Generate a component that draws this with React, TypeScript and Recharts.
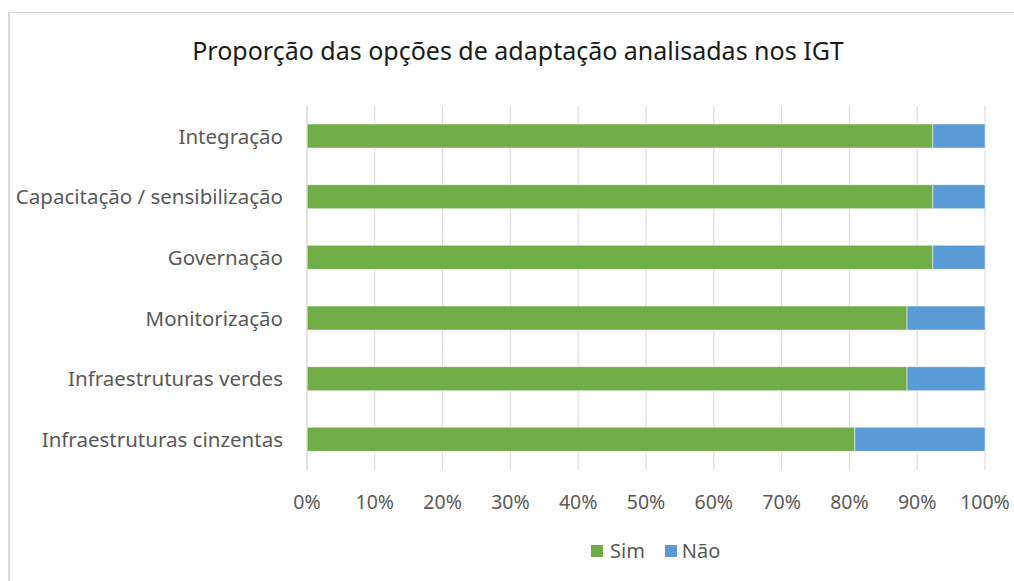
import React from "react";
import { BarChart, Bar, XAxis, YAxis, CartesianGrid } from "recharts";

const categories = [
  "Integração",
  "Capacitação / sensibilização",
  "Governação",
  "Monitorização",
  "Infraestruturas verdes",
  "Infraestruturas cinzentas",
];
const simValues = [0.923, 0.923, 0.923, 0.885, 0.885, 0.808];
const naoValues = [0.077, 0.077, 0.077, 0.115, 0.115, 0.192];
const xTicks = [0, 0.1, 0.2, 0.3, 0.4, 0.5, 0.6, 0.7, 0.8, 0.9, 1];
const seriesNames = ["Sim", "Não"];
const title = "Proporção das opções de adaptação analisadas nos IGT";

const GREEN = "#70AD47";
const BLUE = "#5B9BD5";
const FONT = "'Noto Sans', sans-serif";

const data = categories.map((c, i) => ({ name: c, sim: simValues[i], nao: naoValues[i] }));

export default function App() {
  return (
    <div style={{ position: "absolute", left: 0, top: 0, width: 1014, height: 581, background: "#fff", overflow: "hidden", fontFamily: FONT }}>
      <div style={{ position: "absolute", left: 8, top: 12, width: 1100, height: 700, borderLeft: "2px solid #d9d9d9", borderTop: "1px solid #d9d9d9" }} />
      <div style={{ position: "absolute", left: 0, top: 38, width: 1036, textAlign: "center", fontSize: 25, lineHeight: 1, color: "#1a1a1a", whiteSpace: "nowrap" }}>
        {title}
      </div>
      <div style={{ position: "absolute", left: 0, top: 0 }}>
        <BarChart
          width={1014}
          height={581}
          data={data}
          layout="vertical"
          margin={{ top: 106, right: 29, bottom: 81, left: 0 }}
          barSize={24}
        >
          <CartesianGrid horizontal={false} vertical={true} stroke="#d9d9d9" strokeWidth={1} />
          <XAxis
            type="number"
            domain={[0, 1]}
            ticks={xTicks}
            interval={0}
            height={30}
            tickFormatter={(v: number) => `${Math.round(v * 100)}%`}
            axisLine={false}
            tickLine={false}
            tickSize={0}
            tickMargin={25}
            tick={{ fill: "#595959", fontSize: 19.5, fontFamily: FONT }}
          />
          <YAxis
            type="category"
            dataKey="name"
            width={307}
            axisLine={{ stroke: "#d9d9d9", strokeWidth: 1 }}
            tickLine={false}
            tickSize={0}
            tickMargin={24}
            interval={0}
            tick={{ fill: "#595959", fontSize: 20.5, fontFamily: FONT }}
          />
          <Bar dataKey="sim" name={seriesNames[0]} stackId="a" fill={GREEN} stroke="#ffffff" strokeWidth={0.5} isAnimationActive={false} />
          <Bar dataKey="nao" name={seriesNames[1]} stackId="a" fill={BLUE} stroke="#ffffff" strokeWidth={0.5} isAnimationActive={false} />
        </BarChart>
      </div>
      <div style={{ position: "absolute", left: 591, top: 541, height: 20, display: "flex", alignItems: "center", fontSize: 20, lineHeight: 1, color: "#595959", whiteSpace: "nowrap" }}>
        <span style={{ display: "inline-block", width: 12, height: 12, background: GREEN, marginRight: 7 }} />
        <span style={{ marginRight: 20 }}>{seriesNames[0]}</span>
        <span style={{ display: "inline-block", width: 12, height: 12, background: BLUE, marginRight: 5 }} />
        <span>{seriesNames[1]}</span>
      </div>
    </div>
  );
}
